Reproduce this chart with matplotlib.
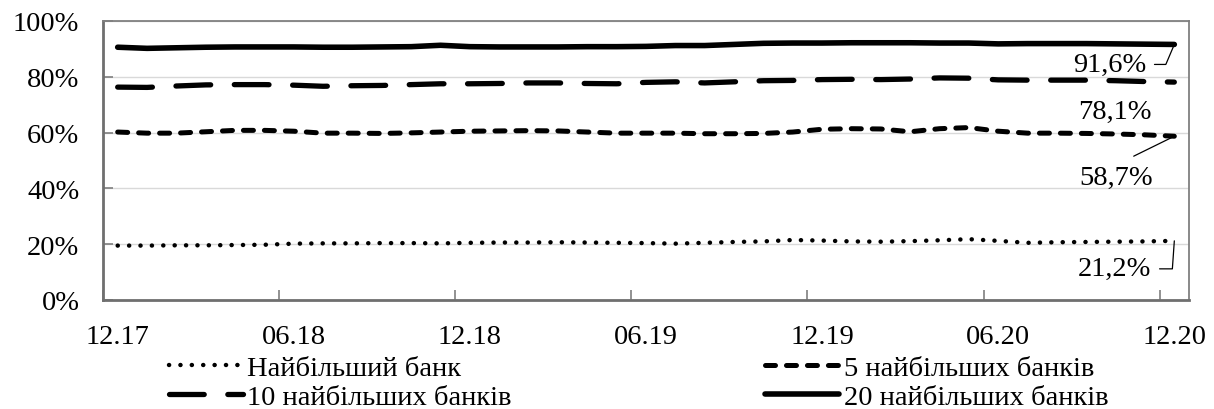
import matplotlib
matplotlib.use("Agg")
import matplotlib.pyplot as plt
from matplotlib.ticker import FixedLocator, PercentFormatter

# ---------------- data ----------------
months = ["12.17", "01.18", "02.18", "03.18", "04.18", "05.18", "06.18", "07.18", "08.18",
          "09.18", "10.18", "11.18", "12.18", "01.19", "02.19", "03.19", "04.19", "05.19",
          "06.19", "07.19", "08.19", "09.19", "10.19", "11.19", "12.19", "01.20", "02.20",
          "03.20", "04.20", "05.20", "06.20", "07.20", "08.20", "09.20", "10.20", "11.20",
          "12.20"]
top1 = [19.5, 19.5, 19.6, 19.6, 19.7, 19.8, 20.2, 20.3, 20.3, 20.4, 20.4, 20.3, 20.5,
        20.6, 20.6, 20.7, 20.6, 20.5, 20.4, 20.2, 20.5, 20.8, 21.0, 21.5, 21.3, 21.0,
        20.9, 21.1, 21.4, 21.8, 21.2, 20.5, 20.7, 20.8, 20.9, 21.0, 21.2]
top5 = [60.2, 59.8, 59.8, 60.3, 60.8, 60.8, 60.5, 59.8, 59.8, 59.7, 59.9, 60.2, 60.5,
        60.6, 60.7, 60.6, 60.2, 59.8, 59.8, 59.8, 59.6, 59.6, 59.7, 60.2, 61.2, 61.4,
        61.3, 60.3, 61.4, 61.8, 60.5, 59.8, 59.8, 59.7, 59.5, 59.2, 58.7]
top10 = [76.3, 76.2, 76.7, 77.1, 77.2, 77.2, 77.0, 76.6, 76.8, 76.9, 77.2, 77.5, 77.5,
         77.6, 77.8, 77.8, 77.6, 77.5, 78.0, 78.2, 77.8, 78.2, 78.6, 78.7, 79.0, 79.1,
         79.0, 79.2, 79.6, 79.5, 78.9, 78.8, 78.8, 78.8, 78.6, 78.3, 78.1]
top20 = [90.6, 90.2, 90.4, 90.6, 90.7, 90.7, 90.7, 90.6, 90.6, 90.7, 90.8, 91.3, 90.8,
         90.7, 90.7, 90.7, 90.8, 90.8, 90.9, 91.2, 91.2, 91.6, 92.0, 92.1, 92.1, 92.2,
         92.2, 92.2, 92.1, 92.1, 91.8, 91.9, 91.9, 91.9, 91.8, 91.7, 91.6]
series_names = ["Найбільший банк", "5 найбільших банків",
                "10 найбільших банків", "20 найбільших банків"]
end_labels = ["21,2%", "58,7%", "78,1%", "91,6%"]
ytick_vals = [0, 20, 40, 60, 80, 100]

# ---------------- style ----------------
plt.rcParams['font.family'] = ['Liberation Serif', 'DejaVu Serif']
plt.rcParams['lines.scale_dashes'] = False
FS = 20.5

fig = plt.figure(figsize=(12.14, 4.10), dpi=100)
ax = fig.add_axes([103/1214, 1 - 301/410, (1189-103)/1214, (301-22)/410])

x = list(range(len(months)))
l1, = ax.plot(x, top1, color='black', lw=3.2, linestyle=(0, (0.1, 8.1)),
              dash_capstyle='round', solid_capstyle='round')
l5, = ax.plot(x, top5, color='black', lw=3.6, linestyle=(0, (7.2, 7.9)),
              dash_capstyle='round', solid_capstyle='round')
l10, = ax.plot(x, top10, color='black', lw=3.8, linestyle=(0, (25, 17)),
               dash_capstyle='round', solid_capstyle='round')
l20, = ax.plot(x, top20, color='black', lw=4.0, solid_capstyle='round',
               solid_joinstyle='round')

ax.set_xlim(-0.5, len(months) - 0.5)
ax.set_ylim(0, 100)

# ticks
ax.xaxis.set_major_locator(FixedLocator(list(range(0, len(months), 6))))
ax.set_xticklabels([months[i] for i in range(0, len(months), 6)])
ax.xaxis.set_minor_locator(FixedLocator([i - 0.5 for i in range(0, len(months), 6)]))
ax.tick_params(axis='x', which='major', length=0, pad=17, labelsize=FS)
ax.tick_params(axis='x', which='minor', direction='in', length=7, width=1.2,
               color='#7f7f7f')
ax.set_yticks(ytick_vals)
ax.yaxis.set_major_formatter(PercentFormatter(decimals=0))
ax.tick_params(axis='y', direction='in', length=7, width=1.2, color='#7f7f7f',
               pad=17, labelsize=FS)

ax.grid(axis='y', color='#d9d9d9', lw=1.0)
ax.set_axisbelow(True)
for s in ['left', 'bottom']:
    ax.spines[s].set_color('#6f6f6f')
    ax.spines[s].set_linewidth(2.0)
for s in ['top', 'right']:
    ax.spines[s].set_color('#808080')
    ax.spines[s].set_linewidth(1.3)

# end labels
last = len(months) - 1
bb = dict(boxstyle='square,pad=0.3', fc='none', ec='none')
ax.annotate(end_labels[3], xy=(last, top20[-1]), xytext=(-65, -20),
            textcoords='offset pixels', ha='center', va='center', fontsize=FS, bbox=bb,
            arrowprops=dict(arrowstyle='-', lw=0.9, color='black', relpos=(1, 0.5),
                            shrinkA=0, shrinkB=0,
                            connectionstyle='angle,angleA=0,angleB=67,rad=0'))
ax.annotate(end_labels[2], xy=(last, top10[-1]), xytext=(-59, -29),
            textcoords='offset pixels', ha='center', va='center', fontsize=FS)
ax.annotate(end_labels[1], xy=(last, top5[-1]), xytext=(-58, -41),
            textcoords='offset pixels', ha='center', va='center', fontsize=FS, bbox=bb,
            arrowprops=dict(arrowstyle='-', lw=0.9, color='black', relpos=(0.5, 1),
                            shrinkA=0, shrinkB=0))
ax.annotate(end_labels[0], xy=(last, top1[-1]), xytext=(-60, -28),
            textcoords='offset pixels', ha='center', va='center', fontsize=FS, bbox=bb,
            arrowprops=dict(arrowstyle='-', lw=0.9, color='black', relpos=(1, 0.5),
                            shrinkA=0, shrinkB=0,
                            connectionstyle='angle,angleA=0,angleB=86,rad=0'))

# legend
leg = fig.legend([l1, l10, l5, l20],
                 [series_names[0], series_names[2], series_names[1], series_names[3]],
                 ncol=2, loc='upper left', bbox_to_anchor=(169/1214, 1 - 356/410),
                 frameon=False, fontsize=FS, handlelength=2.6, handletextpad=0.15,
                 columnspacing=8.9, labelspacing=0.12, borderpad=0, borderaxespad=0)

fig.savefig("out.png", dpi=100)
